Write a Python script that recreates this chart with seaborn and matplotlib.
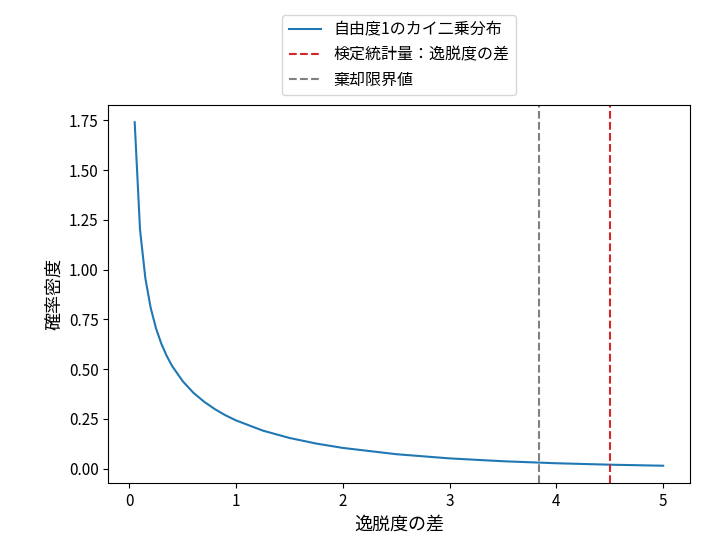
import numpy as np
import pandas as pd
import matplotlib
matplotlib.use("Agg")
import matplotlib.pyplot as plt
import seaborn as sns

plt.rcParams['font.family'] = ['Noto Sans CJK JP', 'DejaVu Sans']

# values (chi-square, df=1)
x_vals = [0.05, 0.10, 0.15, 0.20, 0.25, 0.30, 0.35, 0.40, 0.50, 0.60, 0.70, 0.80, 0.90,
          1.00, 1.25, 1.50, 1.75, 2.00, 2.50, 3.00, 3.50, 4.00, 4.50, 5.00]
y_vals = [1.74, 1.20, 0.956, 0.807, 0.704, 0.627, 0.566, 0.516, 0.439, 0.381, 0.336, 0.299, 0.268,
          0.242, 0.191, 0.154, 0.126, 0.104, 0.0725, 0.0514, 0.0371, 0.0270, 0.0198, 0.0146]
test_stat = 4.50
critical = 3.84

df = pd.DataFrame({'x': x_vals, 'y': y_vals})

fig, ax = plt.subplots(figsize=(7.03, 5.5), dpi=100)
fig.subplots_adjust(left=0.154, right=0.981, top=0.809, bottom=0.122)

sns.lineplot(data=df, x='x', y='y', ax=ax, color='#1f77b4', label='自由度1のカイ二乗分布')
ax.axvline(test_stat, color='#d62728', linestyle='--', label='検定統計量：逸脱度の差')
ax.axvline(critical, color='gray', linestyle='--', label='棄却限界値')

ax.set_xlabel('逸脱度の差', fontsize=13)
ax.set_ylabel('確率密度', fontsize=13)
ax.tick_params(labelsize=11)
ax.legend(loc='lower center', bbox_to_anchor=(0.5, 1.005), fontsize=11.5)

plt.savefig('out.png', dpi=100)
